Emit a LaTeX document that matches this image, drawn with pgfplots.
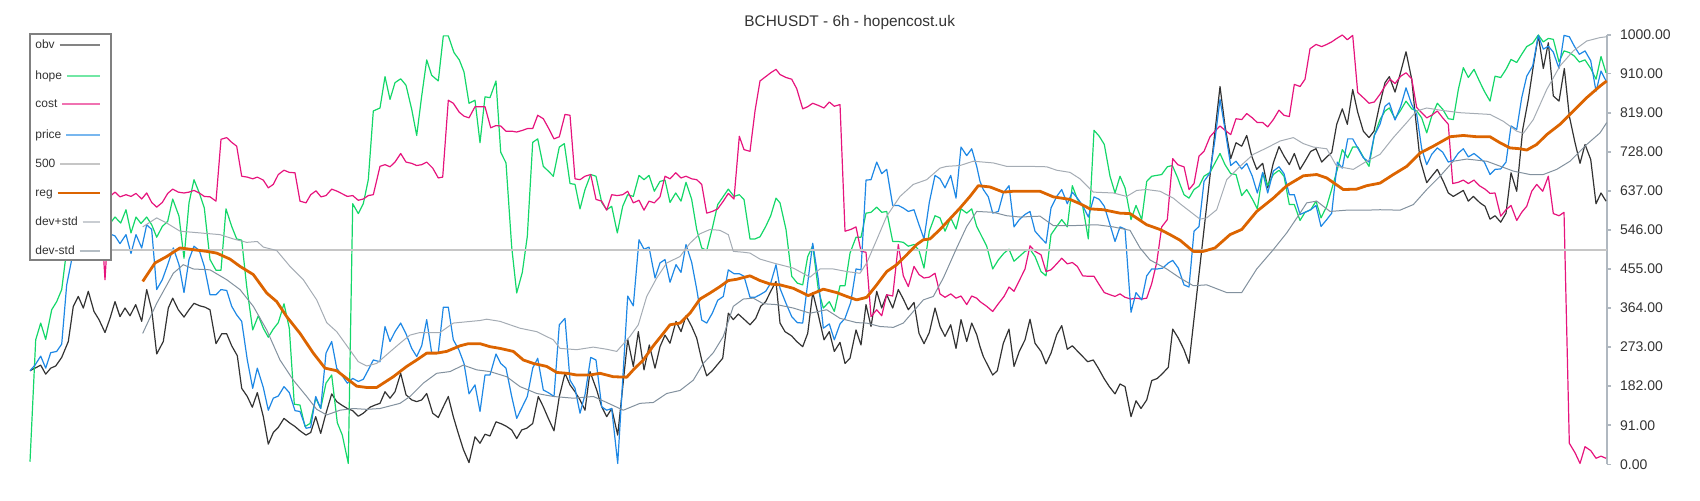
\documentclass[border=0pt]{standalone}
\usepackage{pgfplots}
\pgfplotsset{compat=1.18}
\usepackage{fontspec}
\setmainfont{Liberation Sans}
\definecolor{cobv}{RGB}{51,51,51}
\definecolor{chope}{RGB}{20,215,105}
\definecolor{ccost}{RGB}{230,20,125}
\definecolor{cprice}{RGB}{30,136,229}
\definecolor{cfive}{RGB}{198,198,198}
\definecolor{creg}{RGB}{220,100,0}
\definecolor{cdevp}{RGB}{165,172,180}
\definecolor{cdevm}{RGB}{130,145,158}
\definecolor{axisgray}{RGB}{176,184,192}
\definecolor{labelgray}{RGB}{51,51,51}
\definecolor{leggray}{RGB}{128,128,128}
\begin{document}
\begin{tikzpicture}
\useasboundingbox (-15pt,-17.85pt) rectangle (835pt,232.15pt);
\begin{axis}[
  at={(0,0)}, anchor=south west,
  scale only axis, width=788.5pt, height=214.65pt,
  xmin=30, xmax=1607, ymin=0, ymax=1000,
  clip=false, no markers,
  axis x line=none, axis y line=right,
  axis line style={-, draw=axisgray, line width=0.9pt},
  ytick={0,91,182,273,364,455,546,637,728,819,910,1000},
  yticklabel={\pgfmathprintnumber[fixed,fixed zerofill,precision=2,1000 sep={},assume math mode=true]{\tick}},
  yticklabel style={font=\fontsize{7}{8}\selectfont, text=labelgray, anchor=west, xshift=1pt},
  tick align=outside, major tick length=2pt,
  tick style={draw=axisgray, line width=0.8pt},
  title={BCHUSDT - 6h - hopencost.uk},
  title style={at={(axis description cs:0.5198,1)}, anchor=base, yshift=-1.7pt, font=\fontsize{7.7}{9}\selectfont, text=labelgray},
  every axis plot/.append style={line join=round},
]
% obv
\addplot[cobv, line width=0.6pt] coordinates {
(30,218)(35,224)(40.7,231)(45.7,210)(50.7,224)(55.7,229)(61.7,249)(68.3,286)(73.3,368)(78.3,391)(83.3,364)(88.3,403)(94,356)(99,337)(105,307)(110,340)(115,379)(120,344)(125,364)(130,346)(135.7,372)(141.7,333)(146.7,407)(151.7,360)(156.7,257)(163.3,286)(168.3,364)(172.7,387)(178.3,360)(184,343)(189,360)(194,375)(200,369)(205,366)(210,360)(216,281)(221.7,304)(226.7,304)(231.7,276)(237.3,253)(241.7,177)(247.3,158)(252.3,133)(257.3,167)(263.3,111)(268.3,47)(273.3,74)(278.3,86)(284,107)(289.3,97)(295,88)(300,78)(306,68)(310.7,74)(315.7,111)(320.7,72)(326,119)(331.7,164)(336.7,146)(341.7,138)(347.3,130)(352.7,125)(358.3,112)(363.3,119)(370,133)(375,138)
(380,142)(385,169)(390,154)(395,169)(400.7,212)(406,162)(411.7,150)(416.7,146)(421.7,150)(426.7,165)(432.7,119)(438.3,109)(443.3,134)(448.3,158)(453.3,111)(458.3,72)(463.3,35)(469,4)(475,64)(480,49)(485,70)(490,66)(496,99)(501.7,94)(506.7,88)(511.7,80)(516.7,60)(521.7,80)(526.7,84)(532.7,95)(538.3,158)(543.3,134)(548.3,107)(554,78)(559.3,158)(565,212)(570,185)(575,169)
(580,150)(585,126)(590,216)(596.7,173)(601.7,134)(606.7,111)(611.7,130)(617.7,68)(627.7,291)(633.3,228)(638.3,309)(644,220)(649.3,278)(655,224)(660,274)(665,301)(670,282)(676,333)(681,309)(686,346)(691.7,321)(696.7,294)(701.7,243)(706.7,206)(712.3,218)(717.3,232)(722.7,247)(728.3,352)(733.3,337)(738.3,350)(744,338)(750,325)(755.7,340)(760.7,368)(765.7,379)(770.7,403)(776,426)
(780,329)(785,309)(791.7,299)(796.7,286)(802.7,274)(807.7,305)(812.7,400)(818.3,348)(824,290)(829.3,309)(834.3,263)(840,284)(845,235)(850,247)(856,313)(861,278)(866,372)(871,321)(876.7,403)(881.7,364)(886.7,395)(892.7,364)(898.3,407)(903.3,385)(908.3,360)(914,377)(919,305)(924,281)(929.3,307)(935,364)(940,321)(945,298)(950.7,325)(956,270)(961,337)(966.7,286)(971.7,329)(976.7,302)
(980,274)(983.3,251)(988.3,228)(992.7,208)(997.3,218)(1003.3,282)(1009,315)(1014,228)(1019.3,263)(1025,290)(1030,338)(1035,282)(1041,263)(1046,234)(1051,259)(1056.7,302)(1061.7,323)(1067.3,268)(1072.3,276)(1077.7,263)(1082.7,251)(1087.7,239)(1093.3,243)(1098.3,224)(1104,200)(1109.3,181)(1115,164)(1120,187)(1125,181)(1131,111)(1136,148)(1141,130)(1146.7,150)(1151.7,195)(1157.3,200)(1162.7,212)(1168.3,226)(1172.7,315)(1178.3,294)
(1184,267)(1189,235)(1220,880)(1225,788)(1230.7,712)(1236,749)(1241.7,741)(1246.7,766)(1251.7,718)(1256.7,687)(1262.7,701)(1267.7,644)(1273.3,702)(1279,740)(1284,718)(1289.3,698)(1294.3,724)(1300,687)(1305,706)(1310.7,729)(1316,735)(1321.7,704)(1326.7,716)(1331.7,726)(1336.7,792)(1342.3,828)(1347.3,792)(1352.7,873)(1357.7,820)(1363.3,776)(1369,761)(1374,776)(1379.3,834)
(1385,889)(1389.3,903)(1395,867)(1400,908)(1406,961)(1411.7,897)(1415,819)(1420,710)(1426.7,656)(1431.7,671)(1437.3,687)(1443.3,659)(1448.3,632)(1453.3,624)(1463.3,638)(1468.3,613)(1473.3,624)(1480,609)(1485,601)(1490,571)(1495,579)(1500.7,564)(1506,585)(1511,679)(1516.7,636)(1522.7,780)(1528.3,850)(1533.3,928)(1538.3,999)(1543.3,922)(1548.3,982)(1553.3,858)(1559,846)(1564.3,922)(1569.3,811)(1575,749)(1580,701)(1585,745)(1590.7,710)(1596,607)(1601,632)(1606,613)
};
% hope
\addplot[chope, line width=0.6pt] coordinates {
(30,6)(35.7,290)(40.7,329)(45.7,291)(51.7,360)(56.7,379)(61.7,407)(66.7,500)(75,545)(90,565)(105,560)(111.7,566)(115,576)(120.7,562)(126,593)(131,539)(136,576)(141,561)(146.7,576)(151.7,558)(156.7,529)(162.3,554)(167.7,566)(172.7,618)(179,578)(184,480)(189,609)(194,663)(199.3,632)(204.3,597)(210,477)(216,452)(221,452)(226,595)(231.7,554)(236.7,525)(241.7,522)(246.7,414)(252.7,313)(258.3,346)(263.3,317)(268.3,296)(273.3,315)(278.3,330)(284,374)(289.3,317)(294.3,140)(300,138)(305,88)(310,95)(315.7,154)(320.7,130)(326,189)(331.7,208)(337.3,97)(342.3,68)(348.3,2)(352.7,607)(358.3,584)(363.3,607)(368.3,663)(373.3,823)
(380,830)(385,903)(390,850)(395,889)(400.7,898)(406,883)(411.7,827)(416.7,766)(421.7,858)(426.7,942)(431.7,906)(438.3,893)(443.3,998)(448.3,998)(454,959)(459.3,942)(464,914)(469,841)(475,848)(480,749)(485,856)(490,854)(496,893)(500.7,727)(506,702)(511.7,506)(516.7,399)(522.3,447)(527.3,531)(532.7,750)(537.7,758)(543.3,694)(548.3,683)(553.3,671)(559.3,739)(564.3,747)(570,654)(575,652)
(580,595)(585,640)(590.7,675)(596,671)(601.7,610)(606.7,593)(611.7,601)(617.3,539)(622.7,601)(627.7,628)(633.3,624)(639,673)(644,663)(649,673)(654.3,636)(660,659)(665,662)(670,610)(675.7,632)(681,613)(686,657)(691.7,617)(696.7,547)(701.7,504)(706.7,498)(712.3,550)(717.7,605)(723.3,624)(728.3,641)(734,624)(739.3,628)(744,617)(750,525)(755,525)(760,530)(765.7,554)(770.7,579)(776,620)
(780,609)(786,547)(791.7,438)(797.3,422)(802.7,418)(807.7,484)(812.7,509)(818.3,407)(823.3,364)(829.3,379)(834.3,356)(840,416)(845,416)(850,492)(856,529)(861,529)(866,585)(871,587)(876.7,599)(881.7,587)(886.7,589)(892.7,519)(898.3,519)(903.3,517)(908.3,508)(914,512)(919,498)(924,457)(929.3,543)(935,579)(940,574)(945,543)(950.7,574)(956,548)(961,595)(966.7,585)(971.7,595)(976.7,554)
(980,539)(986.7,508)(992.7,455)(998.3,476)(1004,492)(1009,501)(1014,473)(1019.3,484)(1025,496)(1030,501)(1035,484)(1041,449)(1046,439)(1051,535)(1056.7,554)(1061.7,570)(1067.3,553)(1072.3,649)(1077.3,618)(1082.7,601)(1088.3,525)(1094,778)(1099.3,764)(1104.3,745)(1110,671)(1115,632)(1120,671)(1125,644)(1131,570)(1136,603)(1141.7,570)(1146.7,659)(1151.7,671)(1156.7,673)(1161.7,675)(1167.3,693)(1172.3,696)(1177.7,667)
(1180,652)(1184,628)(1189,620)(1194,640)(1199,648)(1204,671)(1210,680)(1215,702)(1220,724)(1225,698)(1230.7,677)(1236,675)(1241.7,626)(1246.7,640)(1252.3,618)(1257.3,595)(1262.7,679)(1267.7,649)(1273.3,675)(1279,685)(1284,671)(1289.3,605)(1294.3,605)(1300,568)(1305,587)(1310.7,593)(1316,613)(1321,574)(1326.7,601)(1331.7,641)(1337.3,687)(1342.3,733)(1347.7,714)(1352.7,739)(1357.7,739)(1363.3,716)(1369,694)(1374.3,766)
(1380,803)(1385,823)(1389.3,830)(1395,805)(1400.7,825)(1406,846)(1411.7,828)(1416.7,823)(1421.7,807)(1426.7,772)(1431.7,811)(1437.3,841)(1442.7,827)(1448.3,805)(1453.3,803)(1458.3,873)(1463.3,924)(1468.3,901)(1474,920)(1479.3,893)(1484.3,869)(1490,846)(1495,904)(1500.7,901)(1506,920)(1511,943)(1516.7,936)(1521.7,955)(1526.7,973)(1532.7,981)(1538.3,1000)(1543.3,984)(1548.3,992)(1553.3,990)(1559,937)(1564,963)(1569.3,959)(1574.3,951)(1579.3,937)(1585,942)(1590.7,922)(1596,897)(1601,950)(1606,912)
};
% cost
\addplot[ccost, line width=0.6pt] coordinates {
(30,625)(40,618)(50,628)(60,620)(70,630)(80,622)(90,628)(100,620)(105,430)
(110,624)(115,634)(120,623)(126,628)(131,624)(136,631)(141.7,618)(146.7,632)(151.7,610)(156.7,599)(162.3,610)(167.7,631)(172.7,641)(178.3,634)(184,632)(189,634)(194,638)(199.3,632)(204.3,624)(210,623)(216,613)(221,757)(226.7,761)(231.7,750)(236.7,741)(241.7,671)(247.3,669)(252.7,665)(257.3,669)(263.3,662)(268.3,644)(273.3,652)(278.3,675)(284,685)(289.3,680)(295,679)(300,613)(306,609)(310.7,628)(316,637)(321,623)(326,626)(331.7,641)(337.3,636)(342.3,630)(347.3,624)(352.7,626)(358.3,615)(363.3,618)(368.3,626)(373.3,628)
(380,694)(385,698)(390,693)(395,704)(400.7,724)(406,704)(411.7,701)(416.7,696)(421.7,698)(426.7,704)(432.7,690)(438.3,667)(442.7,669)(448.3,848)(453.3,841)(459.3,820)(464,811)(469,807)(475,833)(480,833)(485,833)(490.7,784)(496,789)(500.7,788)(506,776)(511.7,776)(516.7,774)(522.7,778)(527.3,782)(532.7,782)(537.7,813)(543.3,805)(548.3,784)(554,758)(559.3,763)(565,815)(570,813)(575,665)
(580,663)(585,671)(590.7,675)(596,617)(601.7,613)(606.7,592)(611.7,628)(617.3,626)(622.7,628)(627.7,636)(633.3,609)(639,615)(644,592)(649,613)(654.3,609)(660,623)(665,671)(670,665)(675.7,679)(681,667)(686,671)(691.7,665)(696.7,663)(701.7,652)(706.7,585)(712.3,589)(717.7,595)(723.3,613)(728.3,631)(734,618)(739.3,764)(744,733)(750,729)(755,823)(760,893)(765.7,903)(770.7,912)(776,920)
(780,908)(786,901)(791.7,897)(796.7,875)(802.7,828)(807.7,833)(812.7,841)(818.3,836)(824,830)(829.3,844)(834.3,834)(840,838)(845,543)(850.7,547)(856,553)(861,496)(866,494)(871,344)(876.7,360)(881.7,346)(886.7,395)(892.7,392)(898.3,512)(903.3,439)(908.3,414)(914,461)(919,442)(924,434)(929.3,436)(935,445)(940,397)(945,389)(950.7,397)(956,387)(961,392)(966.7,372)(971.7,392)(976.7,387)
(980,379)(986.7,368)(992.7,356)(998.3,374)(1004,391)(1009,413)(1014,403)(1019.3,428)(1025,455)(1030,509)(1035,496)(1041,488)(1046,449)(1051,453)(1056.7,467)(1061.7,480)(1067.3,467)(1072.3,470)(1077.3,461)(1082.7,439)(1088.3,438)(1094,438)(1099.3,418)(1104.3,400)(1110,395)(1115,391)(1120,397)(1125,389)(1131,385)(1136,387)(1141.7,385)(1146.7,387)(1151.7,421)(1156.7,470)(1161.7,553)(1167.3,570)(1172.7,712)(1177.7,698)
(1180,696)(1184,693)(1189,640)(1194,654)(1199,718)(1204,729)(1210,763)(1215,776)(1220,788)(1225,778)(1230.7,768)(1236,805)(1241.7,803)(1246.7,817)(1252.3,807)(1257.3,796)(1262.7,796)(1267.7,786)(1273.3,803)(1279,825)(1284,813)(1289.3,810)(1294.3,885)(1300,880)(1305,897)(1310,968)(1316,978)(1321.7,973)(1326.7,978)(1331.7,984)(1336.7,992)(1342.3,1000)(1347.3,989)(1352.7,999)(1357.7,866)(1363.3,854)(1369,841)(1374.3,844)
(1380,862)(1385,881)(1390,897)(1395,887)(1400.7,904)(1406,912)(1411.7,898)(1416.7,831)(1421.7,819)(1426.7,807)(1431.7,813)(1437.3,823)(1442.7,807)(1448.3,792)(1452.7,654)(1458.3,657)(1463.3,662)(1468.3,654)(1474,662)(1479.3,649)(1485,641)(1490,631)(1495,632)(1500.7,578)(1506,593)(1511,603)(1516.7,568)(1521.7,587)(1526.7,601)(1531.7,636)(1536.7,652)(1542.7,636)(1548.3,671)(1553.3,584)(1559,579)(1564,587)(1569.3,49)(1575,27)(1580,2)(1585,41)(1590.7,32)(1596,14)(1601,19)(1606,14)
};
% price
\addplot[cprice, line width=0.6pt] coordinates {
(30,218)(35,231)(40.7,252)(45.7,224)(50.7,260)(56.7,263)(61.7,280)(66.7,418)(71.7,477)(80,540)(90,530)(100,545)(111.7,535)(115,532)(120,514)(126,535)(131,491)(136,535)(141.7,504)(146.7,558)(151.7,547)(156.7,407)(162.3,430)(167.7,465)(173.3,504)(179,465)(184,400)(189,477)(194,508)(199.3,498)(204.3,461)(210,395)(216,395)(221,407)(226.7,405)(231.7,368)(236.7,348)(241.7,333)(247.3,243)(252.7,177)(257.3,224)(263.3,179)(268.3,126)(273.3,154)(278.3,159)(284,181)(289.3,167)(295,125)(300,123)(306,84)(310.7,86)(315.7,158)(320.7,130)(326,259)(331.7,286)(336.7,224)(341.7,208)(347.3,189)(352.7,200)(358.3,193)(363.3,198)(368.3,220)(373.3,243)
(380,239)(385,321)(390,286)(395,309)(400.7,329)(406,304)(411.7,270)(416.7,251)(421.7,276)(426.7,337)(431.7,259)(438.3,260)(443.3,366)(448.3,366)(453.3,290)(459,266)(464,235)(469,164)(475,185)(480,123)(485,208)(490,208)(496,257)(500.7,235)(506,224)(511.7,158)(516.7,107)(522.3,134)(527.3,158)(532.7,224)(537.7,247)(543.3,173)(548.3,167)(554,158)(559.3,325)(565,340)(570,196)(575,177)
(580,119)(585,162)(590.7,249)(596,243)(601.7,134)(606.7,126)(611.7,130)(617.7,2)(627.7,392)(633.3,369)(639,523)(644,501)(649,506)(655,434)(660,469)(665,477)(670,424)(676,465)(681,447)(686,512)(691.7,470)(696.7,408)(701.7,336)(706.7,329)(712.3,352)(717.7,382)(723.3,391)(728.3,453)(734,444)(739.3,444)(744,438)(750,389)(755,389)(760,395)(765.7,403)(770.7,422)(776,465)
(780,410)(786,375)(791.7,344)(797.3,330)(802.7,329)(807.7,422)(812.7,515)(818.3,431)(823.3,317)(829.3,327)(834.3,290)(840,327)(845,340)(850.7,377)(856,455)(861,453)(866,662)(871,663)(876.7,704)(881.7,677)(886.7,687)(892.7,603)(898.3,603)(903.3,597)(908.3,589)(914,593)(919,558)(924,525)(929.3,610)(935,673)(940,665)(945,644)(950.7,673)(956,620)(961,739)(966.7,719)(971.7,735)(976.7,694)
(980,659)(983.3,640)(988.3,623)(992.7,585)(998.3,589)(1003.3,632)(1009,649)(1014,553)(1019.3,570)(1025,582)(1030,589)(1035,543)(1041,527)(1046,515)(1051,597)(1056.7,624)(1061.7,640)(1067.3,607)(1072.3,634)(1077.3,620)(1082.7,603)(1088.3,576)(1094,623)(1099.3,617)(1104.3,601)(1110,558)(1115,519)(1120,553)(1125,548)(1131,354)(1136,400)(1141.7,383)(1146.7,439)(1151.7,455)(1157.3,455)(1162.7,457)(1168.3,469)(1172.7,475)(1178.3,457)
(1184,418)(1189,413)(1194,543)(1199,554)(1204,659)(1210,679)(1215,757)(1220,850)(1225,780)(1230.7,696)(1236,706)(1241.7,688)(1246.7,701)(1252.3,671)(1257.3,632)(1262.7,680)(1267.7,632)(1273.3,683)(1279,693)(1284,677)(1289.3,628)(1294.3,628)(1300,582)(1305,587)(1310.7,593)(1316,603)(1321,554)(1326.7,570)(1331.7,585)(1337.3,704)(1342.3,690)(1347.7,758)(1352.7,758)(1357.7,737)(1363.3,714)(1369,704)(1374.3,766)
(1380,792)(1385,834)(1389.3,842)(1395,802)(1400.7,834)(1406,877)(1411.7,838)(1416.7,815)(1421.7,735)(1426.7,698)(1431.7,722)(1437.3,737)(1442.7,727)(1448.3,704)(1453.3,708)(1458.3,725)(1463.3,735)(1468.3,716)(1474,724)(1479.3,714)(1484.3,704)(1490,675)(1495,687)(1500.7,688)(1506,704)(1511,788)(1516.7,780)(1521.7,854)(1526.7,904)(1532.7,928)(1538.3,999)(1543.3,967)(1548.3,974)(1553.3,960)(1559,922)(1564,999)(1569.3,996)(1574.3,974)(1579.3,955)(1585,963)(1590.7,940)(1596,869)(1601,916)(1606,893)
};
% 500
\addplot[cfive, line width=0.9pt] coordinates {(30,500)(1607,500)};
% reg
\addplot[creg, line width=1.4pt] coordinates {
(142.7,426)(155,469)(166.7,484)(180,504)(193.3,500)(206.7,496)(216.7,492)(230,478)(240,461)(253.3,442)(266.7,399)(276.7,379)(286.7,344)(300,305)(313.3,259)(325,224)(336.7,218)(346.7,200)(356.7,182)(366.7,179)(376.7,179)
(393.3,204)(406.7,228)(416.7,243)(426.7,259)(436.7,259)(446.7,263)(460,276)(468.3,281)(480,281)(490,274)(500,270)(513.3,263)(523.3,243)(533.3,235)(546.7,228)(556.7,214)(566.7,212)(576.7,208)
(590,208)(600,212)(613.3,204)(626.7,203)(633.3,220)(643.3,243)(653.3,276)(663.3,305)(670,325)(680,329)(690,352)(700,385)(710,399)(720,414)(728.3,428)(736.7,431)(750,439)(760,428)(770,420)
(780,418)(793.3,410)(808.3,393)(823.3,408)(836.7,400)(846.7,391)(856.7,383)(866.7,389)(876.7,418)(886.7,449)(896.7,465)(906.7,488)(916.7,512)(923.3,523)(930,525)(940,547)(950,572)(960,597)(970,624)(978.3,649)
(990,646)(1003.3,634)(1013.3,636)(1040,636)(1053.3,623)(1070,617)(1080,607)(1090,595)(1103.3,593)(1120,585)(1130,584)(1146.7,558)(1160,547)(1170,535)
(1180,522)(1193.3,496)(1203.3,496)(1215,504)(1230,535)(1241.7,547)(1256.7,589)(1273.3,620)(1286.7,649)(1303.3,672)(1316.7,675)(1326.7,667)(1343.3,640)(1356.7,641)(1366.7,649)
(1380,655)(1393.3,675)(1406.7,694)(1420,725)(1433.3,741)(1450,763)(1463.3,766)(1476.7,763)(1490,763)(1500,749)(1510,737)(1520,735)(1526.7,732)(1536.7,745)(1546.7,768)(1560,792)(1573.3,823)(1586.7,854)(1600,881)(1606.7,893)
};
% dev+std
\addplot[cdevp, line width=0.5pt] coordinates {
(142.7,553)(156.7,574)(166.7,562)(180,543)(200,539)(220,535)(233.3,525)(246.7,517)(257.3,519)(263.3,506)(276.7,498)(290,461)(303.3,430)(316.7,383)(326.7,330)(336.7,309)(350,266)(358.3,239)(366.7,229)(376.7,235)
(390,262)(400,282)(410,301)(420,307)(440,307)(453.3,329)(480,335)(486.7,338)(500,333)(520,317)(536.7,309)(553.3,290)(560,270)(576.7,267)
(593.3,273)(606.7,268)(616.7,263)(630,298)(638.3,325)(646.7,391)(656.7,434)(666.7,469)(680,484)(690,515)(700,537)(710,547)(720,545)(728.3,535)(733.3,496)(743.3,494)(750,492)(760,478)(773.3,469)
(780,465)(793.3,457)(810,436)(820,455)(833.3,455)(846.7,449)(860,445)(866.7,469)(876.7,523)(886.7,578)(900,624)(913.3,652)(926.7,663)(940,690)(946.7,694)(960,696)(973.3,706)
(993.3,702)(1006.7,694)(1030,694)(1046.7,693)(1056.7,685)(1070,680)(1080,665)(1093.3,634)(1113.3,632)(1126.7,624)(1136.7,638)(1146.7,640)(1160,636)(1173.3,620)
(1180,607)(1190,589)(1200,571)(1206.7,574)(1216.7,593)(1226.7,663)(1240,694)(1253.3,722)(1266.7,737)(1280,753)(1293.3,761)(1303.3,747)(1313.3,739)(1326.7,735)(1336.7,694)(1353.3,687)(1366.7,706)
(1380,722)(1393.3,761)(1406.7,796)(1416.7,823)(1426.7,830)(1440,825)(1460,819)(1490,815)(1503.3,799)(1516.7,776)(1523.3,771)(1533.3,803)(1546.7,873)(1560,928)(1573.3,963)(1586.7,986)(1600,994)(1606.7,996)
};
% dev-std
\addplot[cdevm, line width=0.5pt] coordinates {
(142.7,305)(156.7,375)(173.3,445)(183.3,465)(193.3,455)(210,453)(226.7,430)(240,407)(253.3,368)(266.7,313)(280,243)(293.3,196)(306.7,158)(316.7,128)(326.7,115)(340,126)(353.3,130)(366.7,128)
(380,130)(400,142)(410,158)(423.3,189)(436.7,212)(450,216)(463.3,231)(476.7,220)(490,216)(506.7,204)(520,181)(536.7,165)(553.3,158)(573.3,154)
(593.3,158)(606.7,144)(623.3,126)(640,142)(653.3,144)(666.7,165)(680,172)(693.3,196)(703.3,235)(713.3,260)(723.3,298)(733.3,368)(743.3,385)(753.3,387)(763.3,374)(776.7,372)
(793.3,364)(810,352)(826.7,360)(840,340)(856.7,330)(866.7,329)(880,321)(893.3,319)(903.3,329)(913.3,356)(923.3,383)(933.3,391)(943.3,434)(956.7,504)(966.7,554)(976.7,589)
(993.3,587)(1006.7,579)(1020,576)(1040,578)(1053.3,556)(1073.3,556)(1096.7,558)(1113.3,553)(1130,545)(1140,504)(1150,476)(1166.7,455)
(1180,434)(1193.3,416)(1206.7,418)(1226.7,400)(1241.7,400)(1256.7,455)(1273.3,500)(1286.7,539)(1300,585)(1306.7,609)(1316.7,613)(1330,589)(1346.7,592)(1366.7,592)
(1380,593)(1400,592)(1413.3,605)(1426.7,640)(1440,671)(1453.3,706)(1466.7,711)(1486.7,706)(1513.3,683)(1530,675)(1543.3,675)(1556.7,687)(1570,706)(1586.7,745)(1600,772)(1606.7,796)
};
\end{axis}
% legend
\filldraw[fill=white, draw=leggray, line width=0.8pt] (0pt,102.15pt) rectangle (40.5pt,215.15pt);
\begin{scope}[every node/.style={anchor=west, inner sep=0pt, text height=4.5pt, text depth=1.3pt, font=\fontsize{6}{7}\selectfont, text=labelgray}]
\node (l1) at (2.5pt,209.65pt) {obv};
\draw[cobv, opacity=0.6, line width=0.7pt] ([xshift=2.2pt]l1.east) -- (35pt,209.65pt);
\node (l2) at (2.5pt,194.15pt) {hope};
\draw[chope, opacity=0.6, line width=0.7pt] ([xshift=2.2pt]l2.east) -- (35pt,194.15pt);
\node (l3) at (2.5pt,180.15pt) {cost};
\draw[ccost, opacity=0.6, line width=0.7pt] ([xshift=2.2pt]l3.east) -- (35pt,180.15pt);
\node (l4) at (2.5pt,164.65pt) {price};
\draw[cprice, opacity=0.6, line width=0.7pt] ([xshift=2.2pt]l4.east) -- (35pt,164.65pt);
\node (l5) at (2.5pt,150.15pt) {500};
\draw[cfive, line width=0.7pt] ([xshift=2.2pt]l5.east) -- (35pt,150.15pt);
\node (l6) at (2.5pt,135.65pt) {reg};
\draw[creg, line width=1.3pt] ([xshift=2.2pt]l6.east) -- (35pt,135.65pt);
\node (l7) at (2.5pt,121.15pt) {dev+std};
\draw[cdevp, opacity=0.6, line width=0.7pt] ([xshift=2.2pt]l7.east) -- (35pt,121.15pt);
\node (l8) at (2.5pt,106.65pt) {dev-std};
\draw[cdevm, opacity=0.6, line width=0.7pt] ([xshift=2.2pt]l8.east) -- (35pt,106.65pt);
\end{scope}
\end{tikzpicture}
\end{document}
